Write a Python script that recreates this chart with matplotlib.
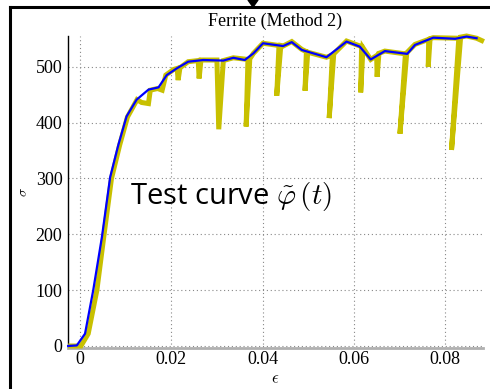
import matplotlib
matplotlib.use("Agg")
import matplotlib.pyplot as plt
from matplotlib.lines import Line2D
from matplotlib.patches import Polygon

plt.rcParams['mathtext.fontset'] = 'cm'

# Fitted (blue) curve
blue_x = [-0.0026, -0.0007, 0.0011, 0.0029, 0.0048, 0.0066, 0.0084, 0.0102, 0.0124,
          0.0150, 0.0172, 0.0190, 0.0212, 0.0237, 0.0270, 0.0314, 0.0336, 0.0361,
          0.0380, 0.0401, 0.0445, 0.0464, 0.0486, 0.0540, 0.0584, 0.0613, 0.0637,
          0.0668, 0.0717, 0.0734, 0.0774, 0.0822, 0.0847, 0.0869]
blue_y = [0, 1, 22, 100, 195, 302, 360, 411, 441,
          459, 463, 485, 497, 509, 512, 511, 516, 512,
          524, 542, 537, 544, 530, 517, 545, 536, 513,
          528, 523, 539, 552, 550, 554, 551]

# Measured test curve (yellow) with unloading spikes
yellow_x = [-0.0026, 0.0002, 0.0018, 0.0037, 0.0052, 0.0069, 0.0087, 0.0104, 0.0125,
            0.0135, 0.0150, 0.0154, 0.0170, 0.0180, 0.0188, 0.0205, 0.0213, 0.0215, 0.0219,
            0.0237, 0.0259, 0.0261, 0.0265, 0.0300, 0.0304, 0.0314, 0.0336, 0.0368,
            0.0364, 0.0372, 0.0380, 0.0401, 0.0436, 0.0431, 0.0440, 0.0445, 0.0464,
            0.0486, 0.0496, 0.0493, 0.0499, 0.0540, 0.0553, 0.0546, 0.0556, 0.0584,
            0.0617, 0.0615, 0.0620, 0.0637, 0.0650, 0.0651, 0.0655, 0.0668, 0.0713,
            0.0701, 0.0716, 0.0734, 0.0764, 0.0763, 0.0767, 0.0774, 0.0830, 0.0814,
            0.0834, 0.0847, 0.0869, 0.0885]
yellow_y = [0, 0, 22, 100, 195, 300, 360, 410, 441,
            436, 434, 458, 461, 458, 485, 495, 497, 476, 498,
            509, 511, 479, 512, 512, 388, 511, 516, 513,
            393, 514, 524, 542, 538, 448, 538, 537, 545,
            531, 527, 457, 526, 517, 521, 408, 523, 546,
            536, 454, 534, 513, 520, 482, 524, 528, 523,
            380, 525, 540, 549, 500, 550, 552, 551, 351,
            553, 555, 551, 545]

x_ticks = [0, 0.02, 0.04, 0.06, 0.08]
x_ticklabels = ['0', '0.02', '0.04', '0.06', '0.08']
y_ticks = [0, 100, 200, 300, 400, 500]

fig = plt.figure(figsize=(4.9, 3.89), dpi=100)
ax = fig.add_axes([68/490, 1-348/389, (483-68)/490, (348-36)/389])

ax.plot(yellow_x, yellow_y, color='#c8c000', lw=3.6, solid_joinstyle='miter',
        solid_capstyle='butt', zorder=3, clip_on=False)
ax.plot(blue_x, blue_y, color='#0000ff', lw=1.6, zorder=4, clip_on=False)

ax.set_xlim(-0.00263, 0.0883)
ax.set_ylim(-3.6, 555)
ax.set_xticks(x_ticks)
ax.set_xticklabels(x_ticklabels)
ax.set_yticks(y_ticks)

ax.grid(True, color='#888888', linestyle=(0, (1, 2.5)), linewidth=0.8)
for s in ['top', 'right']:
    ax.spines[s].set_visible(False)
ax.spines['left'].set_color('black')
ax.spines['left'].set_linewidth(1.0)
ax.spines['bottom'].set_color('#b0b0b0')
ax.spines['bottom'].set_linewidth(2.0)
ax.tick_params(axis='x', length=0, pad=2, labelsize=13)
ax.tick_params(axis='y', length=0, pad=4, labelsize=13)
for lab in ax.get_xticklabels() + ax.get_yticklabels():
    lab.set_family('Liberation Serif')

ax.set_title('Ferrite (Method 2)', family='Liberation Serif', fontsize=13, pad=7)
ax.set_xlabel(r'$\epsilon$', fontsize=12, labelpad=1)
ax.set_ylabel(r'$\sigma$', fontsize=10, labelpad=4)

ax.text(0.011, 268, r'Test curve $\tilde{\varphi}\,(t)$', family='Open Sans',
        fontsize=21, ha='left', va='center', zorder=5)

# slide frame and arrow
fig.add_artist(Line2D([9.5/490, 1.0], [1-6.5/389, 1-6.5/389], color='black', lw=2.2,
                      transform=fig.transFigure))
fig.add_artist(Line2D([10/490, 10/490], [0, 1-6.5/389], color='black', lw=2.2,
                      transform=fig.transFigure))
fig.add_artist(Polygon([[248/490, 1.0], [258/490, 1.0], [253/490, 1-7/389]],
                       closed=True, color='black', transform=fig.transFigure))

fig.savefig('out.png', dpi=100)
